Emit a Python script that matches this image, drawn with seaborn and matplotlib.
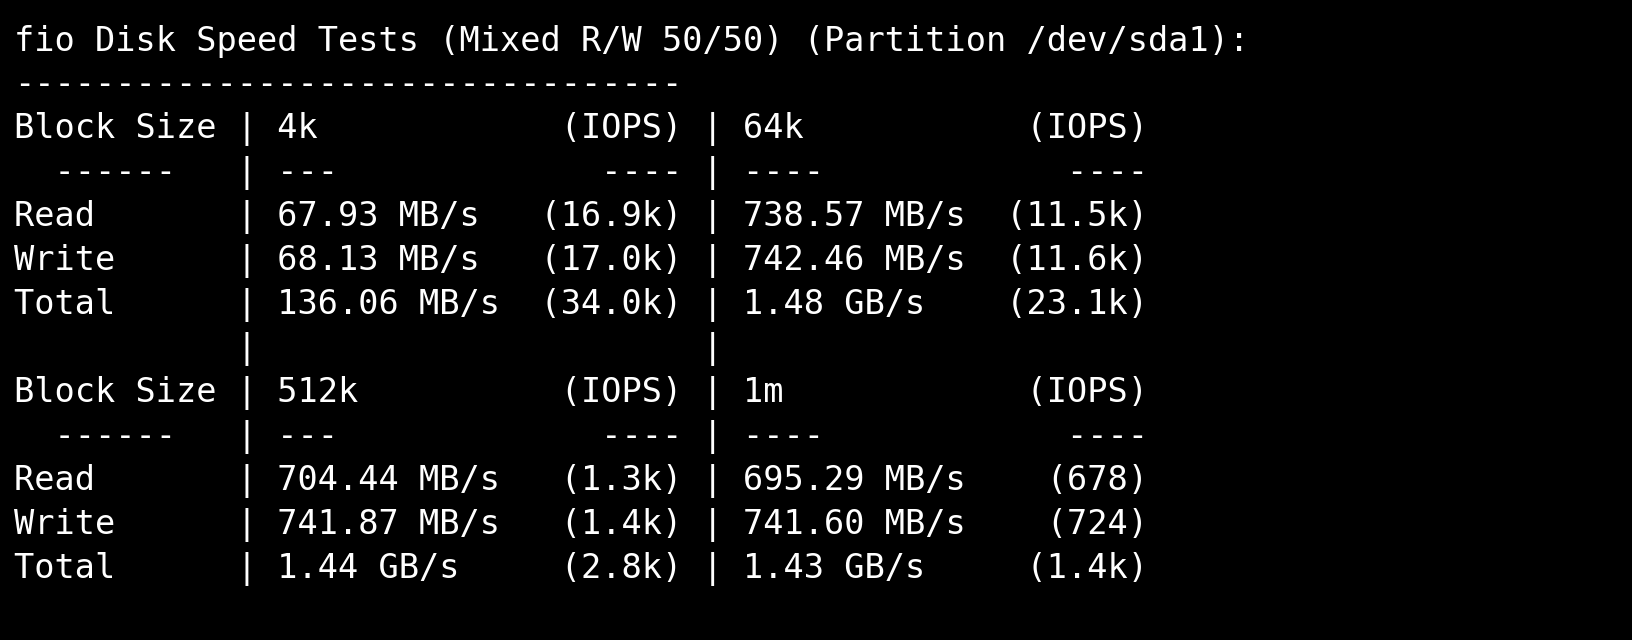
import matplotlib
matplotlib.use("Agg")
import matplotlib.pyplot as plt
import seaborn as sns

sns.set_theme(style="dark")
plt.rcParams['font.family'] = ['DejaVu Sans Mono']

title = "fio Disk Speed Tests (Mixed R/W 50/50) (Partition /dev/sda1):"
block_sizes = [["4k", "64k"], ["512k", "1m"]]
read_speed = [["67.93 MB/s", "738.57 MB/s"], ["704.44 MB/s", "695.29 MB/s"]]
read_iops = [["(16.9k)", "(11.5k)"], ["(1.3k)", "(678)"]]
write_speed = [["68.13 MB/s", "742.46 MB/s"], ["741.87 MB/s", "741.60 MB/s"]]
write_iops = [["(17.0k)", "(11.6k)"], ["(1.4k)", "(724)"]]
total_speed = [["136.06 MB/s", "1.48 GB/s"], ["1.44 GB/s", "1.43 GB/s"]]
total_iops = [["(34.0k)", "(23.1k)"], ["(2.8k)", "(1.4k)"]]

def row(label, cells):
    s = f"{label:<11}"
    for a, b in cells:
        s += f"| {a:<13}{b:>7} "
    return s.rstrip()

lines = [title, "-" * 33]
for g in range(2):
    lines.append(row("Block Size", [(block_sizes[g][i], "(IOPS)") for i in range(2)]))
    lines.append(row("  ------", [("---" if i == 0 else "----", "----") for i in range(2)]))
    lines.append(row("Read", list(zip(read_speed[g], read_iops[g]))))
    lines.append(row("Write", list(zip(write_speed[g], write_iops[g]))))
    lines.append(row("Total", list(zip(total_speed[g], total_iops[g]))))
    if g == 0:
        lines.append(" " * 11 + "|" + " " * 22 + "|")

fig = plt.figure(figsize=(16.32, 6.40), dpi=100)
fig.patch.set_facecolor("black")
ax = fig.add_axes([0, 0, 1, 1])
ax.set_facecolor("black")
ax.set_xlim(0, 1632)
ax.set_ylim(640, 0)
ax.axis("off")
for i, ln in enumerate(lines):
    ax.text(14, 41 + i * 44.0, ln, color="white", fontsize=24.2,
            va="center", ha="left", family="DejaVu Sans Mono")
fig.savefig("out.png", dpi=100, facecolor="black")
